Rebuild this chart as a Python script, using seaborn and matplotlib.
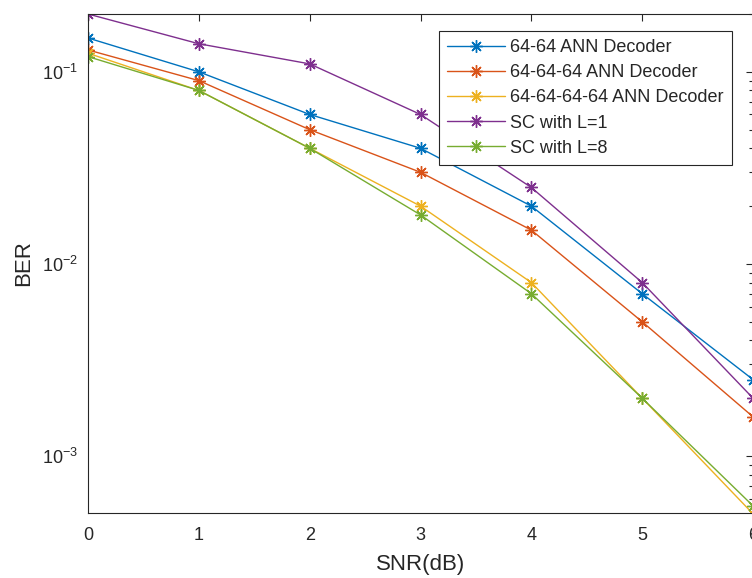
import numpy as np
import pandas as pd
import matplotlib
matplotlib.use("Agg")
import matplotlib.pyplot as plt
import seaborn as sns
from matplotlib.ticker import LogLocator, NullFormatter

# BER curves
snr = [0, 1, 2, 3, 4, 5, 6]
ann_64_64 = [0.15, 0.10, 0.06, 0.04, 0.02, 0.007, 0.0025]
ann_64_64_64 = [0.13, 0.09, 0.05, 0.03, 0.015, 0.005, 0.0016]
ann_64_64_64_64 = [0.125, 0.08, 0.04, 0.02, 0.008, 0.002, 0.0005]
sc_l1 = [0.2, 0.14, 0.11, 0.06, 0.025, 0.008, 0.002]
sc_l8 = [0.12, 0.08, 0.04, 0.018, 0.007, 0.002, 0.00055]

labels = ["64-64 ANN Decoder", "64-64-64 ANN Decoder", "64-64-64-64 ANN Decoder",
          "SC with L=1", "SC with L=8"]
series = [ann_64_64, ann_64_64_64, ann_64_64_64_64, sc_l1, sc_l8]
colors = ["#0072BD", "#D95319", "#EDB120", "#7E2F8E", "#77AC30"]

df = pd.concat([pd.DataFrame({"SNR": snr, "BER": s, "curve": lab})
                for s, lab in zip(series, labels)], ignore_index=True)

sns.set_style("white")
plt.rcParams["font.family"] = ["Liberation Sans", "DejaVu Sans"]

fig = plt.figure(figsize=(7.52, 5.78), dpi=100)
ax = fig.add_axes([88 / 752, 65 / 578, 665 / 752, 499 / 578])

sns.lineplot(data=df, x="SNR", y="BER", hue="curve", hue_order=labels,
             palette=colors, marker=(8, 2, 0), markersize=9, markeredgewidth=1.0,
             linewidth=1.0, ax=ax, legend=True)

# asterisk markers are edge-only, so colour the edges like the lines
for line in ax.get_lines():
    line.set_markeredgecolor(line.get_color())

ax.set_yscale("log")
ax.set_xlim(0, 6)
ax.set_ylim(5.05e-4, 0.2)
ax.set_xticks(snr)
ax.yaxis.set_major_locator(LogLocator(base=10, numticks=10))
ax.yaxis.set_minor_locator(LogLocator(base=10, subs=np.arange(2, 10), numticks=10))
ax.yaxis.set_minor_formatter(NullFormatter())

ax.tick_params(which="both", direction="in", top=True, right=True,
               labelsize=13, colors="#262626", width=0.8)
ax.tick_params(which="major", length=5)
ax.tick_params(which="minor", length=3)
ax.tick_params(axis="x", pad=10)
ax.tick_params(axis="y", pad=7)
for sp in ax.spines.values():
    sp.set_color("#262626")
    sp.set_linewidth(0.8)

ax.set_xlabel("SNR(dB)", fontsize=16, color="#262626", labelpad=7)
ax.set_ylabel("BER", fontsize=16, color="#262626", labelpad=6)

leg = ax.legend(loc="upper left", bbox_to_anchor=(351 / 665, 1 - 17 / 499),
                fontsize=13, frameon=True, fancybox=False, edgecolor="#262626",
                framealpha=1, borderpad=0.45, labelspacing=0.45,
                handlelength=3.2, handletextpad=0.3, borderaxespad=0)
leg.get_frame().set_linewidth(0.8)
for h in leg.legend_handles:
    h.set_markeredgecolor(h.get_color())

fig.savefig("out.png", dpi=100)
